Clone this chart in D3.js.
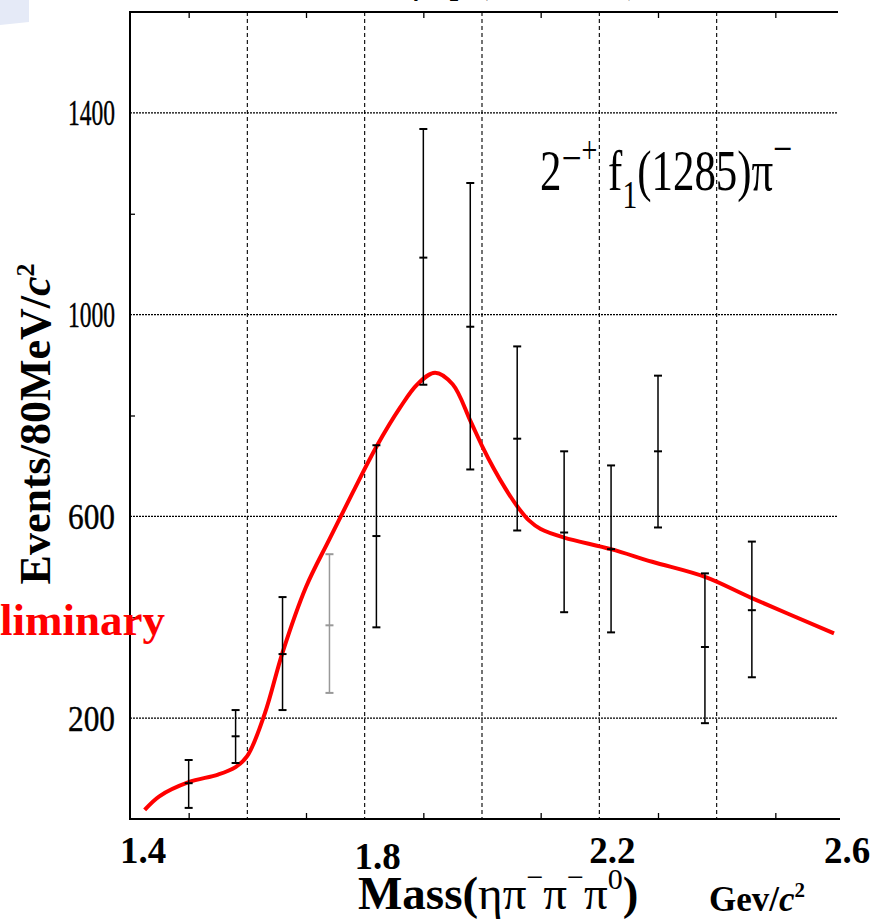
<!DOCTYPE html>
<html>
<head>
<meta charset="utf-8">
<title>f1(1285) pi- mass spectrum</title>
<script src="https://d3js.org/d3.v7.min.js"></script>
<style>
  body { margin: 0; background: #fff; }
  .grid-v { stroke: #000; stroke-width: 1.1; stroke-dasharray: 4, 3; }
  .grid-h { stroke: #000; stroke-width: 1.4; stroke-dasharray: 2, 1; }
  .tick-y text { font-family: "Liberation Serif", serif; font-size: 35px; }
</style>
</head>
<body>
<svg id="chart"></svg>
<script>
// data
const massBins = [1.50, 1.58, 1.66, 1.74, 1.82, 1.90, 1.98, 2.06, 2.14, 2.22, 2.30, 2.38, 2.46];
const events   = [71, 164, 327, 384, 561, 1113, 976, 754, 568, 535, 729, 341, 414];
const errHigh  = [117, 216, 440, 525, 741, 1368, 1261, 937, 729, 701, 879, 487, 550];
const errLow   = [22, 111, 216, 250, 380, 861, 693, 572, 410, 370, 578, 190, 281];

// fit curve (red)
const fitMass  = [1.425, 1.45, 1.50, 1.55, 1.58, 1.60, 1.63, 1.66, 1.70, 1.74, 1.78, 1.82, 1.86, 1.89, 1.92, 1.95, 1.98, 2.00, 2.02, 2.04, 2.06, 2.08, 2.10, 2.14, 2.22, 2.29, 2.38, 2.46, 2.60];
const fitValue = [18, 45, 73, 88, 103, 125, 210, 330, 460, 555, 648, 738, 815, 862, 885, 862, 790, 740, 695, 655, 620, 592, 575, 558, 535, 510, 480, 438, 368];

const xTickLabels = ["1.4", "1.8", "2.2", "2.6"];
const xGridValues = [1.6, 1.8, 2.0, 2.2, 2.4];
const xMinorValues = [1.5, 1.7, 1.9, 2.1, 2.3, 2.5];
const yTickValues = [200, 600, 1000, 1400];
const yMinorValues = [400, 800, 1200];

const width = 878, height = 919;
const margin = { top: 12, right: 44, bottom: 100, left: 130 };

const svg = d3.select("#chart")
    .attr("width", width)
    .attr("height", height);

const x = d3.scaleLinear()
    .domain([1.4, 2.6])
    .range([margin.left, width - margin.right]);
const y = d3.scaleLinear()
    .domain([0, 1600])
    .range([height - margin.bottom, margin.top]);

// slide decoration, top left corner
svg.append("path")
    .attr("d", "M0,0 L29,0 L29,22 L0,25 Z")
    .attr("fill", "#e5eaf7");

// title of the slide, mostly cut off above the picture
svg.append("text")
    .attr("x", 520)
    .attr("y", -7)
    .attr("text-anchor", "middle")
    .style("font-family", "Liberation Serif, serif")
    .style("font-size", "36px")
    .text("ηπ\u207Bp (18 GeV/c)");

svg.append("defs").append("clipPath")
    .attr("id", "plot-clip")
    .append("rect")
    .attr("x", margin.left)
    .attr("y", margin.top)
    .attr("width", width - margin.right - margin.left + 4)
    .attr("height", height - margin.bottom - margin.top);

// grid lines
svg.append("g").selectAll("line")
    .data(xGridValues)
    .join("line")
    .attr("class", "grid-v")
    .attr("x1", d => x(d)).attr("x2", d => x(d))
    .attr("y1", y(1600)).attr("y2", y(0));

svg.append("g").selectAll("line")
    .data(yTickValues)
    .join("line")
    .attr("class", "grid-h")
    .attr("x1", x(1.4)).attr("x2", x(2.6) + 4)
    .attr("y1", d => y(d)).attr("y2", d => y(d));

// minor ticks on the frame
svg.append("g")
    .attr("transform", "translate(0," + y(1600) + ")")
    .call(d3.axisBottom(x).tickValues(xMinorValues).tickSize(6).tickFormat(""))
    .call(g => g.select(".domain").remove())
    .call(g => g.selectAll("line").attr("stroke-width", 1.3));
svg.append("g")
    .attr("transform", "translate(0," + y(0) + ")")
    .call(d3.axisTop(x).tickValues(xMinorValues).tickSize(6).tickFormat(""))
    .call(g => g.select(".domain").remove())
    .call(g => g.selectAll("line").attr("stroke-width", 1.3));
svg.append("g")
    .attr("transform", "translate(" + x(1.4) + ",0)")
    .call(d3.axisRight(y).tickValues(yMinorValues).tickSize(5).tickFormat(""))
    .call(g => g.select(".domain").remove())
    .call(g => g.selectAll("line").attr("stroke-width", 1.3));

// frame: top, left, bottom
svg.append("path")
    .attr("d", "M" + (x(2.6) + 4) + "," + y(1600) + "H" + x(1.4) + "V" + y(0) + "H" + (x(2.6) + 6))
    .attr("fill", "none")
    .attr("stroke", "#000")
    .attr("stroke-width", 2);

// y tick labels (narrow serif)
const yAxis = svg.append("g")
    .attr("class", "tick-y")
    .attr("transform", "translate(" + (x(1.4) - 15) + ",0)")
    .call(d3.axisLeft(y).tickValues(yTickValues).tickSize(0).tickPadding(0).tickFormat(d3.format("d")))
    .call(g => g.select(".domain").remove());
yAxis.selectAll("text")
    .attr("fill", "#000")
    .attr("dy", "0.34em")
    .attr("stroke", "#000")
    .attr("stroke-width", 0.4)
    .attr("textLength", 47)
    .attr("lengthAdjust", "spacingAndGlyphs");

// x tick labels
svg.append("g").selectAll("text")
    .data(xTickLabels)
    .join("text")
    .attr("x", d => x(+d) + 13)
    .attr("y", d => d === "1.8" ? 869 : 863)
    .attr("text-anchor", "middle")
    .style("font-family", "Liberation Serif, serif")
    .style("font-weight", "bold")
    .style("font-size", "37px")
    .text(d => d);

// fit curve
const fitLine = d3.line()
    .x((d, i) => x(fitMass[i]))
    .y(d => y(d))
    .curve(d3.curveCatmullRom.alpha(0.5));

svg.append("path")
    .datum(fitValue)
    .attr("clip-path", "url(#plot-clip)")
    .attr("fill", "none")
    .attr("stroke", "#ff0000")
    .attr("stroke-width", 4)
    .attr("d", fitLine);

// error bars
const bars = svg.append("g").selectAll("g")
    .data(massBins)
    .join("g")
    .attr("stroke", (d, i) => i === 3 ? "#999" : "#000")
    .attr("stroke-width", 1.5);

bars.append("line")
    .attr("x1", d => x(d)).attr("x2", d => x(d))
    .attr("y1", (d, i) => y(errLow[i]))
    .attr("y2", (d, i) => y(errHigh[i]));
[errLow, events, errHigh].forEach(vals => {
    bars.append("line")
        .attr("x1", d => x(d) - 4).attr("x2", d => x(d) + 4)
        .attr("y1", (d, i) => y(vals[i]))
        .attr("y2", (d, i) => y(vals[i]))
        .attr("stroke-width", 2);
});

// label in the plot
const label = svg.append("text")
    .attr("transform", "translate(540,190) scale(0.74,1)")
    .style("font-family", "Liberation Serif, serif")
    .style("font-size", "58px");
label.append("tspan").text("2");
label.append("tspan").attr("dy", -16).style("font-size", "48px").text("\u2212");
label.append("tspan").attr("dy", -11).style("font-size", "38px").text("+");
label.append("tspan").attr("dy", 27).text(" f");
label.append("tspan").attr("dy", 18).style("font-size", "40px").text("1");
label.append("tspan").attr("dy", -18).text("(1285)\u03C0");
label.append("tspan").attr("dy", -26).style("font-size", "46px").text("\u2212");

// Preliminary stamp (cut at the left edge)
svg.append("text")
    .attr("x", 165)
    .attr("y", 635)
    .attr("text-anchor", "end")
    .attr("fill", "#ff0000")
    .style("font-family", "Liberation Serif, serif")
    .style("font-weight", "bold")
    .style("font-size", "45px")
    .text("Preliminary");

// y axis title
const yTitle = svg.append("text")
    .attr("transform", "translate(50,424) rotate(-90)")
    .attr("text-anchor", "middle")
    .style("font-family", "Liberation Serif, serif")
    .style("font-weight", "bold")
    .style("font-size", "44px");
yTitle.append("tspan").text("Events/80MeV/");
yTitle.append("tspan").style("font-style", "italic").text("c");
yTitle.append("tspan").attr("dy", -16).style("font-size", "26px").text("2");

// x axis title
const xTitle = svg.append("text")
    .attr("x", 358)
    .attr("y", 909)
    .style("font-family", "Liberation Serif, serif")
    .style("font-size", "47px");
xTitle.append("tspan").style("font-weight", "bold").text("Mass(");
xTitle.append("tspan").text("\u03B7\u03C0");
xTitle.append("tspan").attr("dy", -22).style("font-size", "30px").text("\u2212");
xTitle.append("tspan").attr("dy", 22).text("\u03C0");
xTitle.append("tspan").attr("dy", -22).style("font-size", "30px").text("\u2212");
xTitle.append("tspan").attr("dy", 22).text("\u03C0");
xTitle.append("tspan").attr("dy", -20).style("font-size", "30px").text("0");
xTitle.append("tspan").attr("dy", 20).style("font-weight", "bold").text(")");

const unit = svg.append("text")
    .attr("x", 709)
    .attr("y", 911)
    .style("font-family", "Liberation Serif, serif")
    .style("font-weight", "bold")
    .style("font-size", "35px");
unit.append("tspan").text("Gev/");
unit.append("tspan").style("font-style", "italic").text("c");
unit.append("tspan").attr("dy", -14).style("font-size", "21px").text("2");
</script>
</body>
</html>
